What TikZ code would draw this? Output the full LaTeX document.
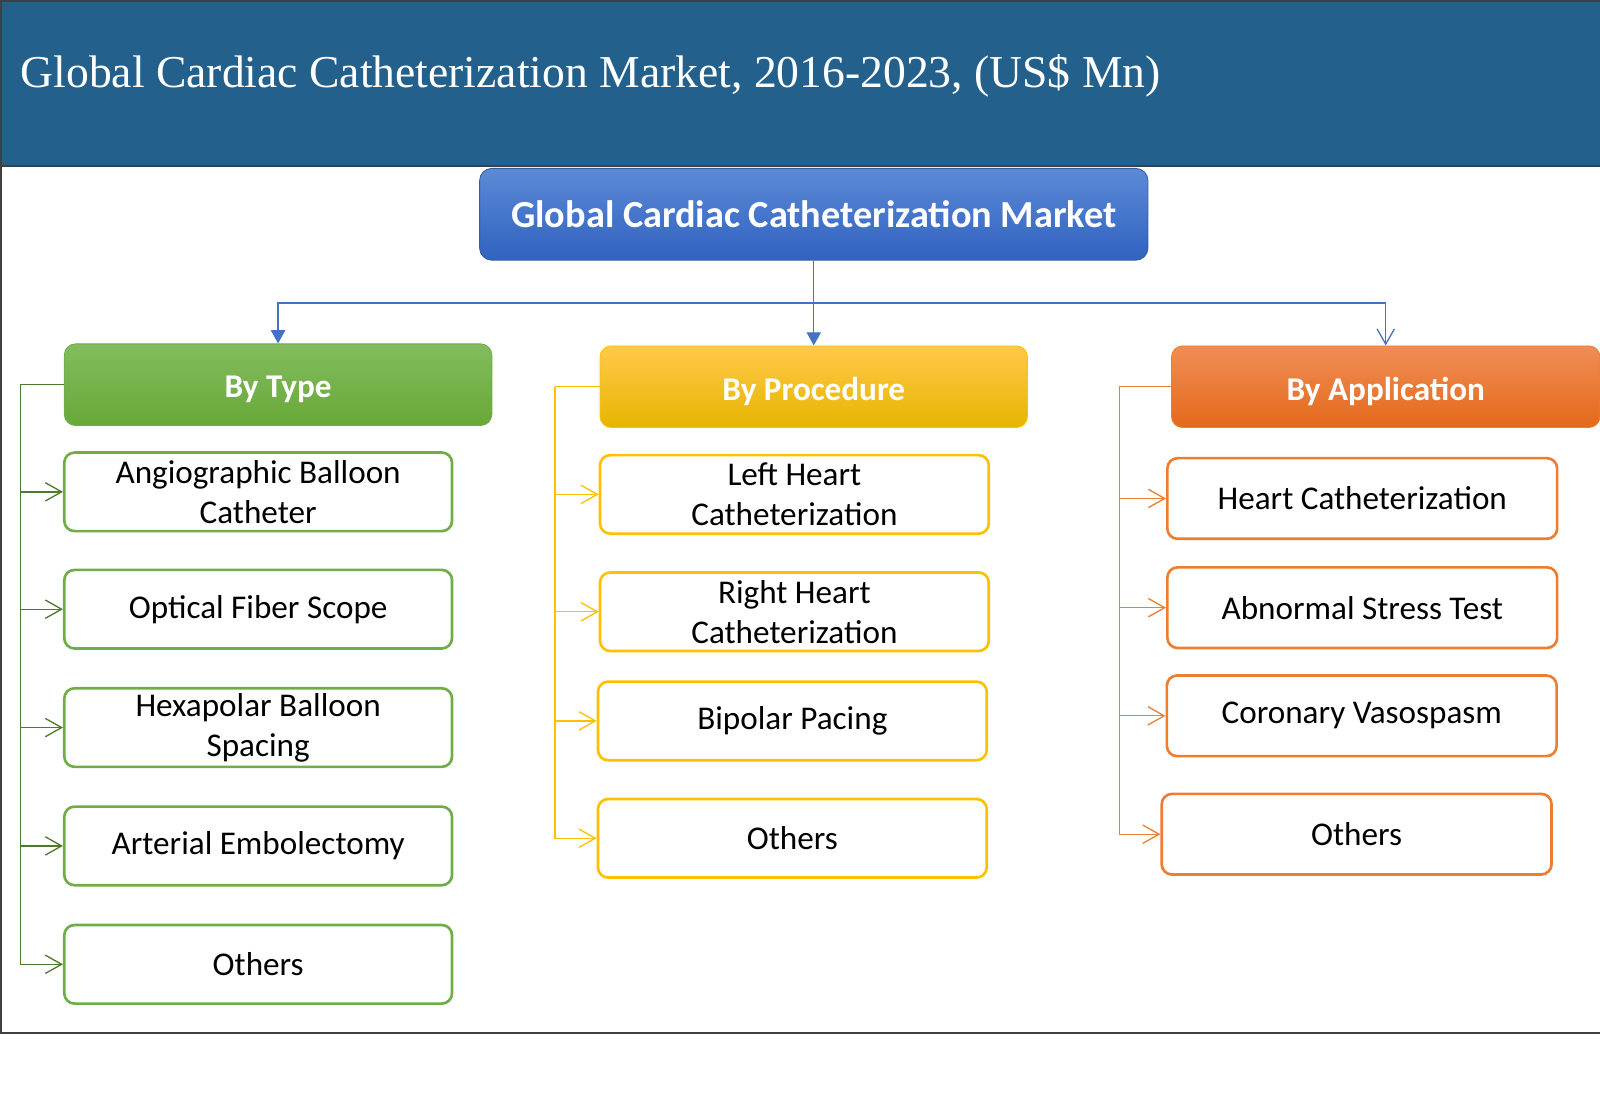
\documentclass[tikz,border=0pt]{standalone}
\usepackage{fontspec}
\setmainfont{Carlito}
\newfontfamily\titlefont{Liberation Serif}
\usetikzlibrary{arrows.meta}

\begin{document}
\begin{tikzpicture}[x=1pt, y=-1pt,
    box/.style={draw, line width=2.6pt, rounded corners=10pt, fill=white, align=center,
        minimum width=381pt, minimum height=77pt, inner sep=2pt,
        font=\fontsize{32.5}{39}\selectfont},
    head/.style={draw, line width=0.8pt, rounded corners=11pt, align=center, text=white,
        minimum width=419pt, minimum height=80pt, text height=32pt, text depth=6pt,
        font=\fontsize{32.5}{38}\selectfont\bfseries},
    link/.style={line width=1.3pt},
    barb/.style={link, -{Straight Barb[length=16pt,width=18pt,line width=1.3pt]}}
  ]
    % -------- 共用顏色 --------
    \colorlet{band}{rgb,255:red,35;green,97;blue,140}
    \colorlet{frame}{rgb,255:red,64;green,64;blue,64}
    \colorlet{rootline}{rgb,255:red,68;green,114;blue,196}
    \colorlet{typeline}{rgb,255:red,112;green,173;blue,71}
    \colorlet{typetree}{rgb,255:red,78;green,122;blue,46}
    \colorlet{procline}{rgb,255:red,255;green,192;blue,0}
    \colorlet{appline}{rgb,255:red,237;green,125;blue,49}

    \useasboundingbox (0,0) rectangle (1568,1092.7);

    % -------- 標題區 --------
    \fill[band] (1,1) rectangle (1590,163);
    \draw[frame, line width=2pt] (1,1) rectangle (1590,1012);
    \draw[frame, line width=2pt] (1,163) -- (1590,163);
    \node[anchor=base west, inner sep=0pt, text=white,
        font=\titlefont\fontsize{44.7}{52}\selectfont] (title) at (20,86)
        {Global Cardiac Catheterization Market, 2016-2023, (US\$ Mn)};

    % -------- 根節點 --------
    \node[draw=rootline!80!black, line width=0.8pt, rounded corners=12pt, text=white,
        top color={rgb,255:red,92;green,138;blue,214}, bottom color={rgb,255:red,48;green,98;blue,192},
        minimum width=655pt, minimum height=90pt, font=\fontsize{37.5}{44}\selectfont\bfseries]
        (root) at (797.5,210) {Global Cardiac Catheterization Market};

    % -------- 三個分類 --------
    \node[head, draw=typeline, top color={rgb,255:red,131;green,188;blue,94},
        bottom color={rgb,255:red,104;green,168;blue,56}] (type) at (272.5,377) {By Type};
    \node[head, draw=procline, top color={rgb,255:red,255;green,201;blue,74},
        middle color={rgb,255:red,255;green,198;blue,0},
        bottom color={rgb,255:red,230;green,181;blue,0}] (proc) at (797.5,379) {By Procedure};
    \node[head, draw=appline, minimum width=420pt, top color={rgb,255:red,240;green,141;blue,85},
        middle color={rgb,255:red,240;green,126;blue,46},
        bottom color={rgb,255:red,228;green,105;blue,26}] (app) at (1358,379) {By Application};

    % root → 分類
    \coordinate (hub) at (797.5,297);
    \draw[link, rootline] (root) -- (hub);
    \draw[link, rootline, -{Triangle[length=13pt,width=14pt]}] (hub) -| (type);
    \draw[link, rootline, -{Triangle[length=13pt,width=14pt]}] (hub) -- (proc);
    \draw[link, rootline, -{Straight Barb[length=15pt,width=17pt,line width=1.3pt]}] (hub) -| (app);

    % ======== By Type ========
    \node[box, draw=typeline, minimum width=380pt] (t1) at (253,482) {Angiographic Balloon\\Catheter};
    \node[box, draw=typeline, minimum width=380pt] (t2) at (253,597) {Optical Fiber Scope};
    \node[box, draw=typeline, minimum width=380pt] (t3) at (253,713) {Hexapolar Balloon\\Spacing};
    \node[box, draw=typeline, minimum width=380pt] (t4) at (253,829) {Arterial Embolectomy};
    \node[box, draw=typeline, minimum width=380pt] (t5) at (253,945) {Others};

    \coordinate (tt) at (20,377);
    \draw[link, typetree] (type) -- (tt);
    \draw[barb, typetree] (tt) |- (t1);
    \draw[barb, typetree] (tt) |- (t2);
    \draw[barb, typetree] (tt) |- (t3);
    \draw[barb, typetree] (tt) |- (t4);
    \draw[barb, typetree] (tt) |- (t5);

    % ======== By Procedure ========
    \node[box, draw=procline] (p1) at (778.5,484.5) {Left Heart\\Catheterization};
    \node[box, draw=procline] (p2) at (778.5,599.5) {Right Heart\\Catheterization};
    \node[box, draw=procline] (p3) at (776.5,706.5) {Bipolar Pacing};
    \node[box, draw=procline] (p4) at (776.5,821.5) {Others};

    \coordinate (pt) at (544,379);
    \draw[link, procline] (proc) -- (pt);
    \draw[barb, procline] (pt) |- (p1);
    \draw[barb, procline] (pt) |- (p2);
    \draw[barb, procline] (pt) |- (p3);
    \draw[barb, procline] (pt) |- (p4);

    % ======== By Application ========
    \node[box, draw=appline, minimum width=382pt, minimum height=79pt] (a1) at (1335,488.5) {Heart Catheterization};
    \node[box, draw=appline, minimum width=382pt, minimum height=79pt] (a2) at (1335,595.5) {Abnormal Stress Test};
    \node[box, draw=appline, minimum width=382pt, minimum height=79pt] (a3) at (1334.5,701.5) {Coronary Vasospasm};
    \node[box, draw=appline, minimum width=382pt, minimum height=79pt] (a4) at (1329.5,817.5) {Others};

    \coordinate (at) at (1097,379);
    \draw[link, appline] (app) -- (at);
    \draw[barb, appline] (at) |- (a1);
    \draw[barb, appline] (at) |- (a2);
    \draw[barb, appline] (at) |- (a3);
    \draw[barb, appline] (at) |- (a4);

\end{tikzpicture}
\end{document}
